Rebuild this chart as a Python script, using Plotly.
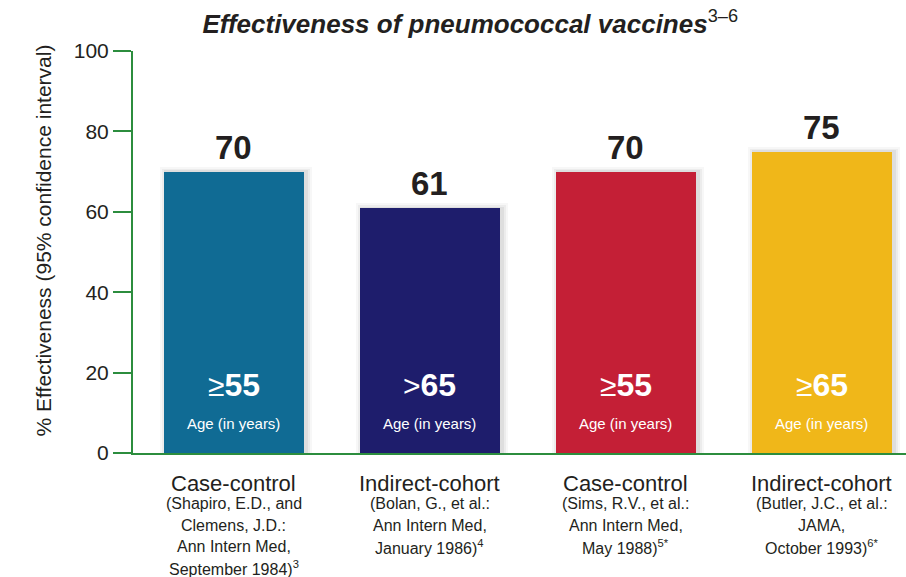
import plotly.graph_objects as go

# ---- data ----
methods = ["Case-control", "Indirect-cohort", "Case-control", "Indirect-cohort"]
citations = [
    ["(Shapiro, E.D., and", "Clemens, J.D.:", "Ann Intern Med,", "September 1984)<sup>3</sup>"],
    ["(Bolan, G., et al.:", "Ann Intern Med,", "January 1986)<sup>4</sup>"],
    ["(Sims, R.V., et al.:", "Ann Intern Med,", "May 1988)<sup>5*</sup>"],
    ["(Butler, J.C., et al.:", "JAMA,", "October 1993)<sup>6*</sup>"],
]
effectiveness = [70, 61, 70, 75]
age_symbols = ["≥", ">", "≥", "≥"]
age_thresholds = [55, 65, 55, 65]
bar_colors = ["#106b94", "#1e1d6c", "#c41f36", "#f0b719"]
y_ticks = [0, 20, 40, 60, 80, 100]

SANS = "Liberation Sans, Arial, Helvetica, sans-serif"
GREEN = "#2c8d3e"
INK = "#231f20"

xs = list(range(len(effectiveness)))

fig = go.Figure()

# soft shadow layers
for extra, w, a in [(1.2, 0.775, 0.03), (0.7, 0.755, 0.045), (0.3, 0.735, 0.06)]:
    fig.add_trace(go.Bar(
        x=[x + 0.012 for x in xs], y=[v + extra for v in effectiveness], width=w,
        marker=dict(color=f"rgba(0,0,0,{a})", line=dict(width=0)),
        hoverinfo="skip", showlegend=False))

fig.add_trace(go.Bar(
    x=xs, y=effectiveness, width=0.714,
    marker=dict(color=bar_colors, line=dict(width=0)),
    showlegend=False))

annotations = []
for x, v, sym, age, meth, cit in zip(xs, effectiveness, age_symbols, age_thresholds, methods, citations):
    # value above bar
    annotations.append(dict(x=x, y=v, xref="x", yref="y", text=f"<b>{v}</b>",
                            showarrow=False, yanchor="bottom", yshift=4,
                            font=dict(family=SANS, size=33, color=INK)))
    # age threshold inside bar
    annotations.append(dict(x=x, y=0, xref="x", yref="y",
                            text=f"<span style='font-size:30px'>{sym}</span><b>{age}</b>",
                            showarrow=False, yanchor="middle", yshift=68,
                            font=dict(family=SANS, size=32, color="white")))
    annotations.append(dict(x=x, y=0, xref="x", yref="y", text="Age (in years)",
                            showarrow=False, yanchor="middle", yshift=30,
                            font=dict(family=SANS, size=15, color="white")))
    # category labels below axis
    annotations.append(dict(x=x, y=0, xref="x", yref="y", text=meth,
                            showarrow=False, yanchor="middle", yshift=-30,
                            font=dict(family=SANS, size=22, color=INK)))
    for i, line in enumerate(cit):
        annotations.append(dict(x=x, y=0, xref="x", yref="y", text=line,
                                showarrow=False, yanchor="middle", yshift=-(50.5 + 21.5 * i),
                                font=dict(family=SANS, size=16, color=INK)))

annotations.append(dict(x=-0.1333, y=0.53, xref="paper", yref="paper",
                        text="% Effectiveness (95% confidence interval)",
                        textangle=-90, showarrow=False,
                        font=dict(family=SANS, size=21, color=INK)))

fig.update_layout(
    width=906, height=577,
    margin=dict(l=133, r=0, t=51, b=124),
    paper_bgcolor="white", plot_bgcolor="white",
    barmode="overlay", bargap=0,
    title=dict(text="<b><i>Effectiveness of pneumococcal vaccines</i></b><sup>3–6</sup>",
               x=0.519, xanchor="center", y=0.958, yanchor="middle",
               font=dict(family=SANS, size=26, color=INK)),
    xaxis=dict(range=[-0.515, 3.43], showgrid=False, zeroline=False,
               showticklabels=False, ticks="", showline=True,
               linecolor=GREEN, linewidth=2, fixedrange=True),
    yaxis=dict(range=[0, 100], tickvals=y_ticks, showgrid=False, zeroline=False,
               showline=True, linecolor=GREEN, linewidth=2,
               ticks="outside", ticklen=18, tickwidth=2, tickcolor=GREEN,
               tickfont=dict(family=SANS, size=21, color=INK)),
    annotations=annotations,
)

fig.write_html("out.html", config={"displayModeBar": False},
               post_script="document.body.style.margin='0';document.body.style.overflow='hidden';")
